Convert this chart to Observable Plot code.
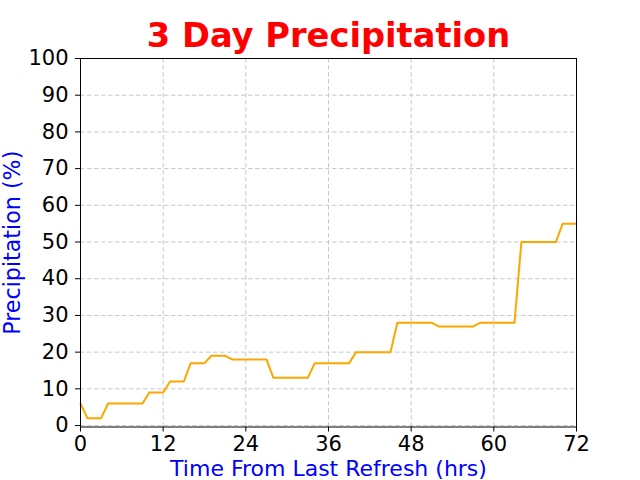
<!DOCTYPE html>
<html>
<head>
<meta charset="utf-8">
<script src="https://cdn.jsdelivr.net/npm/d3@7"></script>
<script src="https://cdn.jsdelivr.net/npm/@observablehq/plot@0.6"></script>
<style>
  html, body { margin: 0; padding: 0; background: white; }
</style>
</head>
<body>
<div id="chart"></div>
<script>
const hours = [0,1,2,3,4,5,6,7,8,9,10,11,12,13,14,15,16,17,18,19,20,21,22,23,24,25,26,27,28,29,30,31,32,33,34,35,36,37,38,39,40,41,42,43,44,45,46,47,48,49,50,51,52,53,54,55,56,57,58,59,60,61,62,63,64,65,66,67,68,69,70,71,72];
const precip = [6,2,2,2,6,6,6,6,6,6,9,9,9,12,12,12,17,17,17,19,19,19,18,18,18,18,18,18,13,13,13,13,13,13,17,17,17,17,17,17,20,20,20,20,20,20,28,28,28,28,28,28,27,27,27,27,27,27,28,28,28,28,28,28,50,50,50,50,50,50,55,55,55];
const xTicks = [0,12,24,36,48,60,72];
const yTicks = [0,10,20,30,40,50,60,70,80,90,100];
const titleText = "3 Day Precipitation";
const xLabel = "Time From Last Refresh (hrs)";
const yLabel = "Precipitation (%)";

const data = hours.map((h, i) => ({h, p: precip[i]}));

const chart = Plot.plot({
  width: 640,
  height: 480,
  marginLeft: 80,
  marginRight: 64,
  marginTop: 58,
  marginBottom: 53.5,
  style: {fontFamily: "DejaVu Sans", fontSize: "21px", background: "white", color: "black"},
  x: {domain: [0, 72]},
  y: {domain: [-0.4, 100]},
  marks: [
    Plot.gridX(xTicks, {stroke: "#c8c8c8", strokeOpacity: 1, strokeWidth: 1, strokeDasharray: "4.5,2.5"}),
    Plot.gridY(yTicks, {stroke: "#c8c8c8", strokeOpacity: 1, strokeWidth: 1, strokeDasharray: "4.5,2.5"}),
    Plot.line(data, {x: "h", y: "p", stroke: "#ffa500", strokeWidth: 2}),
    Plot.frame({stroke: "black", strokeWidth: 1}),
    Plot.axisX(xTicks, {tickSize: 5, tickPadding: 4.5, fontSize: 21, label: null, stroke: "black"}),
    Plot.axisY(yTicks, {tickSize: 5, tickPadding: 7, fontSize: 21, label: null, stroke: "black"}),
    Plot.text([titleText], {frameAnchor: "top", textAnchor: "middle", dy: -22.5, lineAnchor: "middle", fill: "red", fontWeight: "bold", fontSize: 33.7}),
    Plot.text([xLabel], {frameAnchor: "bottom", textAnchor: "middle", dy: 42, lineAnchor: "middle", fill: "blue", fontSize: 22}),
    Plot.text([yLabel], {frameAnchor: "left", textAnchor: "middle", dx: -68, rotate: -90, lineAnchor: "middle", fill: "blue", fontSize: 22.2})
  ]
});
document.getElementById("chart").appendChild(chart);
</script>
</body>
</html>
